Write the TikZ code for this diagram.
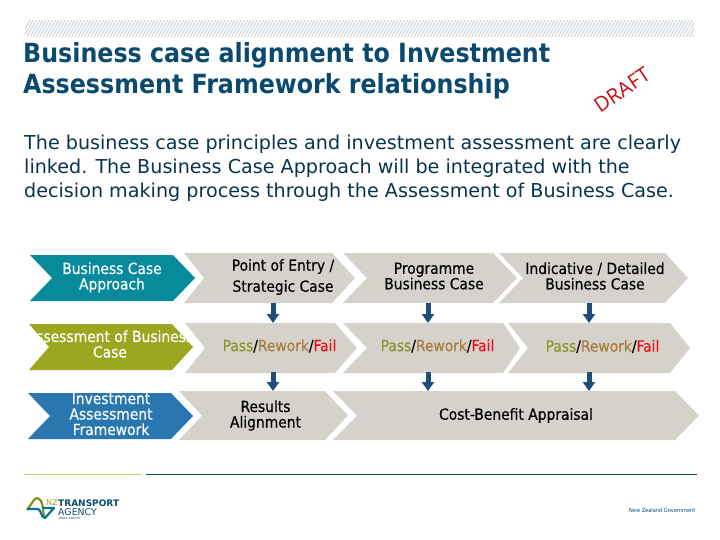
\documentclass[tikz,border=0pt]{standalone}
\usepackage{fontspec}
\setmainfont{DejaVu Sans}
\newfontfamily\cond[FakeBold=0.3]{DejaVu Sans Condensed}
\newfontfamily\condl{DejaVu Sans Condensed}
\newfontfamily\condb[BoldFont={DejaVu Sans Condensed Bold}]{DejaVu Sans Condensed}
\newfontfamily\draftf{Open Sans}
\definecolor{navyT}{HTML}{0B4A6E}
\definecolor{tealB}{HTML}{078A9B}
\definecolor{oliveB}{HTML}{9BA71F}
\definecolor{blueB}{HTML}{2A77AF}
\definecolor{grayB}{HTML}{D5D2CC}
\definecolor{arrowC}{HTML}{1F4E79}
\definecolor{passC}{HTML}{8A9528}
\definecolor{reworkC}{HTML}{A87B3D}
\definecolor{failC}{HTML}{E8101A}
\definecolor{hatchC}{HTML}{C9D3D9}
\definecolor{goldL}{HTML}{C9CB6A}
\newcommand{\chev}[9]{%
 \fill[#8] (#1,#6) -- (#2,#6) -- (#3,{(#6+#7)/2}) -- (#2,#7) -- (#1,#7) -- (#4,{(#6+#7)/2}) -- cycle;
 \node[#9] at ({(#1+#2)/2+#5},{(#6+#7)/2})}
\newcommand{\pfr}{{\color{passC}Pass}/{\color{reworkC}Rework}/{\color{failC}Fail}}
\usetikzlibrary{arrows.meta}
\tikzset{
 lab/.style={align=center,font=\cond\fontsize{15.4}{15.5}\selectfont,text=black,inner sep=0pt},
 wlab/.style={lab,text=white},
 flow/.style={draw=arrowC,line width=5pt,-{Triangle[length=9pt,width=12pt]}}
}
\begin{document}
\begin{tikzpicture}[x=1pt,y=-1pt]
\useasboundingbox (0,0) rectangle (720,540);
\begin{scope}
\clip (25,21) rectangle (694,37);
\foreach \i in {0,3.2,...,690}{\draw[hatchC,line width=0.9pt] (20+\i,38) -- (30+\i,20);}
\end{scope}
\node[anchor=west,inner sep=0pt,align=left,text=navyT,font=\condb\bfseries\fontsize{26.4}{31}\selectfont] (title) at (23,71) {Business case alignment to Investment\\Assessment Framework relationship};
\node[rotate=34,text=failC!85!black,font=\draftf\fontsize{20.5}{21}\selectfont,inner sep=0pt] (draft) at (622,90) {DRAFT};
\node[anchor=west,inner sep=0pt,align=left,text=navyT!70!black,font=\fontsize{19.15}{24}\selectfont] (intro) at (24,168) {The business case principles and investment assessment are clearly\\linked. The Business Case Approach will be integrated with the\\decision making process through the Assessment of Business Case.};
% row 1
\chev{30}{173}{195}{52}{10.5}{255}{301}{tealB}{wlab,yshift=0.5pt} (a1) {Business Case\\Approach};
\chev{184}{332}{355}{204}{25}{253}{303}{grayB}{lab,yshift=1pt,font=\cond\fontsize{15.4}{21}\selectfont} (b1) {Point of Entry /\\Strategic Case};
\chev{343}{493}{517}{367}{16}{253}{303}{grayB}{lab,yshift=2pt} (c1) {Programme\\Business Case};
\chev{499}{665}{688}{523}{13}{253}{303}{grayB}{lab,yshift=2pt} (d1) {Indicative / Detailed\\Business Case};
% row 2
\chev{29}{172}{193}{49}{9.5}{324}{370}{oliveB}{wlab,yshift=3pt} (a2) {Assessment of Business\\Case};
\chev{185}{335}{357}{205}{19.5}{323}{373}{grayB}{lab,yshift=2pt} (b2) {\pfr};
\chev{343}{503}{520}{367}{14.5}{323}{373}{grayB}{lab,yshift=2pt} (c2) {\pfr};
\chev{508}{670}{690}{528}{13.5}{323}{373}{grayB}{lab,yshift=1.5pt} (d2) {\pfr};
% row 3
\chev{28}{171}{193}{50}{11.5}{393}{439}{blueB}{wlab,yshift=2pt} (a3) {Investment\\Assessment\\Framework};
\chev{179}{325}{348}{202}{13.5}{391}{440}{grayB}{lab} (b3) {Results\\Alignment};
\chev{333}{675}{699}{357}{12}{391}{440}{grayB}{lab} (c3) {Cost-Benefit Appraisal};
% arrows
\coordinate (s1) at (273,303); \coordinate (e1) at (273,323);
\coordinate (s2) at (273,372); \coordinate (e2) at (273,391);
\coordinate (s3) at (428,303); \coordinate (e3) at (428,323);
\coordinate (s4) at (428,372); \coordinate (e4) at (428,391);
\coordinate (s5) at (589,303); \coordinate (e5) at (589,323);
\coordinate (s6) at (589,372); \coordinate (e6) at (589,391);
\foreach \k in {1,...,6}{\draw[flow] (s\k) -- (e\k);}
% footer
\draw[goldL,line width=1pt] (24,474) -- (141,474);
\draw[navyT,line width=1pt] (146,474) -- (697,474);
% logo
\draw[oliveB!85!black,line width=2.2pt,line join=round] (27,510) -- (34,500) .. controls (36,497) and (39,498) .. (41,501) .. controls (44,507) and (43,518) .. (45,518);
\draw[tealB!70!navyT,line width=2.2pt,line join=round] (27,509) -- (38,509) .. controls (41,509) and (41,518) .. (45,518) -- (54,508) -- (42,508);
\node[anchor=west,inner sep=0pt,text=oliveB,font=\fontsize{8}{8}\selectfont] (nz) at (46,502.5) {NZ};
\node[anchor=west,inner sep=0pt,text=navyT,font=\bfseries\fontsize{9}{9}\selectfont] (tr) at (58,503) {TRANSPORT};
\node[anchor=west,inner sep=0pt,text=navyT,font=\fontsize{9.4}{9}\selectfont] (ag) at (58,512) {AGENCY};
\node[anchor=west,inner sep=0pt,text=navyT,font=\fontsize{3}{3}\selectfont] (wk) at (59,518.5) {WAKA KOTAHI};
\node[anchor=west,inner sep=0pt,text=navyT,font=\condl\fontsize{5.6}{6}\selectfont] (gov) at (629,510) {New Zealand Government};
\end{tikzpicture}
\end{document}
